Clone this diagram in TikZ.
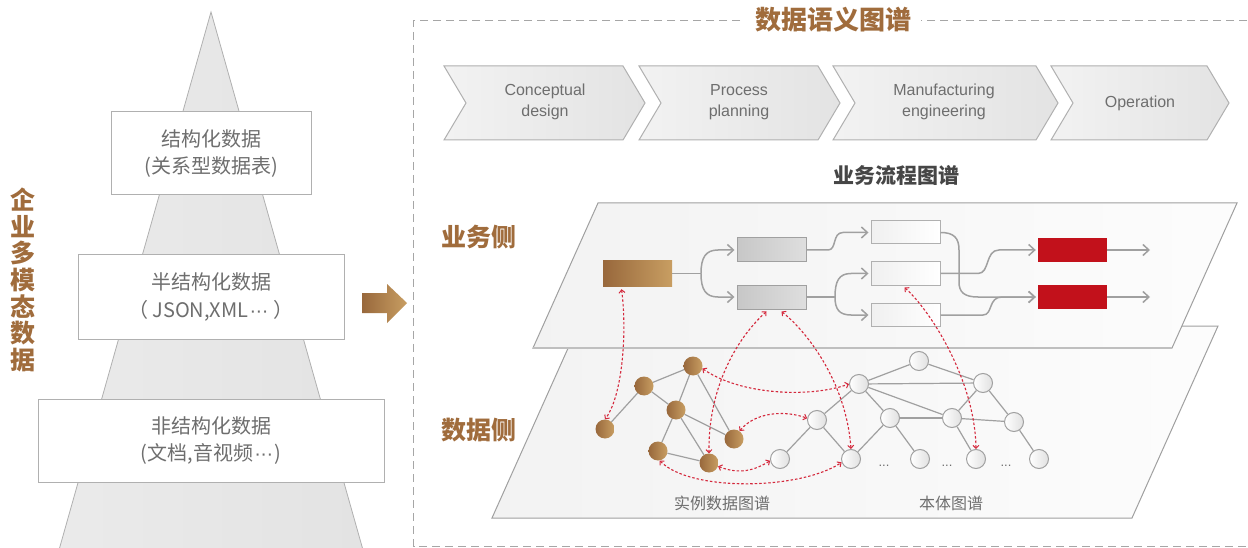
\documentclass[tikz,border=0pt]{standalone}
\usepackage{fontspec}
\setmainfont{Liberation Sans}
\newfontfamily\cjk{Noto Sans CJK SC}
\usetikzlibrary{arrows.meta}
\definecolor{ttl}{RGB}{160,108,60}
\definecolor{txt}{RGB}{110,110,110}
\definecolor{dtxt}{RGB}{70,70,70}
\definecolor{lgray}{RGB}{160,160,160}
\definecolor{bgray}{RGB}{176,176,176}
\definecolor{redb}{RGB}{194,17,27}
\definecolor{reddash}{RGB}{212,40,60}
\definecolor{brA}{RGB}{152,104,60}
\definecolor{brB}{RGB}{200,158,98}
\newcommand{\mydots}{{\rmfamily\kern1pt·\kern-0.5pt·\kern-0.5pt·\kern1pt}}
\tikzset{
  pyr/.style={draw=bgray, line width=0.8pt, left color=black!8, right color=black!11},
  lbox/.style={draw=bgray, fill=white, line width=1pt, minimum height=83pt, align=center, text=txt,
     font=\cjk\fontsize{20}{27.5}\selectfont, inner sep=0pt},
  chev/.style={draw=bgray, line width=1pt, left color=black!5, right color=black!11},
  chevtxt/.style={align=center, text=txt, font=\fontsize{16}{21}\selectfont},
  plane/.style={draw=lgray, line width=1pt, left color=black!5, right color=black!1},
  brbox/.style={minimum width=69pt, minimum height=25pt, inner sep=0pt, left color=brA, right color=brB},
  graybox/.style={draw=lgray, line width=1pt, minimum width=69pt, minimum height=24pt, inner sep=0pt, left color=black!22, right color=black!13},
  whitebox/.style={draw=bgray, line width=1pt, minimum width=69pt, minimum height=23pt, inner sep=0pt, left color=black!6, right color=white},
  redbox/.style={fill=redb, minimum width=69pt, minimum height=24pt, inner sep=0pt},
  flow/.style={draw=lgray, line width=1.5pt},
  flowa/.style={flow, -{Straight Barb[length=6pt,width=11pt,line width=1.5pt]}, shorten >=2pt},
  bn/.style={circle, minimum size=19pt, inner sep=0pt, left color=brA, right color=brB},
  wn/.style={circle, minimum size=19pt, inner sep=0pt, draw=lgray, line width=1pt, left color=white, right color=black!12},
  ge/.style={draw=lgray, line width=1.2pt},
  rdash/.style={draw=reddash, line width=1.1pt, dash pattern=on 2.5pt off 2pt,
     arrows={Straight Barb[length=3pt,width=6pt,line width=1pt]-Straight Barb[length=3pt,width=6pt,line width=1pt]}},
  sidettl/.style={text=ttl, font=\cjk\bfseries\fontsize{25}{26.7}\selectfont, align=center},
  glabel/.style={text=txt, font=\cjk\fontsize{16}{18}\selectfont}
}
\begin{document}
\begin{tikzpicture}[x=1pt,y=-1pt]
\useasboundingbox (0,0) rectangle (1248,548);
\fill[white] (0,0) rectangle (1248,548);

% ---------- left pyramid ----------
\path[pyr] (211,12) -- (363,550) -- (59,550) -- cycle;
\node[lbox, minimum width=200pt] (s1) at (211,153.5) {结构化数据\\(关系型数据表)};
\node[lbox, minimum width=266pt, minimum height=84pt] (s2) at (211,297) {半结构化数据\\（ JSON,XML\mydots\ ）};
\node[lbox, minimum width=346pt] (s3) at (211,440.5) {非结构化数据\\(文档,音视频\mydots)};
\node[sidettl] (vt) at (23,280) {企\\业\\多\\模\\态\\数\\据};

% brown block arrow
\path[left color=brA, right color=brB] (362,293) -- (387,293) -- (387,284) -- (407,303) -- (387,323) -- (387,313) -- (362,313) -- cycle;

% ---------- dashed frame ----------
\draw[draw=black!35, line width=1pt, dash pattern=on 8pt off 5pt] (1260,20.5) -- (413.5,20.5) -- (413.5,546.5) -- (1260,546.5);
\node[fill=white, inner xsep=10pt, inner ysep=2pt, text=ttl, font=\cjk\bfseries\fontsize{26}{28}\selectfont] (title) at (833,20) {数据语义图谱};

% ---------- chevrons ----------
\foreach \l/\r in {444/623, 639/818, 833/1036, 1051/1207} {
  \path[chev] (\l,66) -- (\r,66) -- (\r+22,103) -- (\r,140) -- (\l,140) -- (\l+22,103) -- cycle;
}
\node[chevtxt] (c1) at (545,102) {Conceptual\\design};
\node[chevtxt] (c2) at (739,102) {Process\\planning};
\node[chevtxt] (c3) at (944,102) {Manufacturing\\engineering};
\node[chevtxt] (c4) at (1140,103) {Operation};

\node[text=dtxt, font=\cjk\bfseries\fontsize{21}{23}\selectfont] (bpt) at (896,175) {业务流程图谱};

% ---------- planes ----------
\path[plane] (578,326) -- (1218,326) -- (1132,518) -- (492,518) -- cycle;
\path[plane] (598,203) -- (1237,203) -- (1172,348) -- (533,348) -- cycle;
\draw[draw=black!25, line width=1.5pt] (533,348) -- (1172,348);

\node[sidettl] (ywc) at (479,237) {业务侧};
\node[sidettl] (sjc) at (479,430) {数据侧};

% ---------- business process ----------
\node[brbox] (br) at (637.5,273.5) {};
\node[graybox] (A) at (771.5,250) {};
\node[graybox] (B) at (771.5,297) {};
\node[whitebox] (C) at (905.5,232.5) {};
\node[whitebox] (D) at (905.5,273.5) {};
\node[whitebox] (E) at (905.5,315) {};
\node[redbox] (R1) at (1072.5,250) {};
\node[redbox] (R2) at (1072.5,297) {};
\coordinate (j1) at (701,273.5);
\coordinate (j2) at (835,297);
\coordinate (x1) at (1152,250);
\coordinate (x2) at (1152,297);

\draw[flow] (br.east) -- (j1);
\draw[flowa] (j1) .. controls (701,257) and (706,250) .. (718,250) -- (A.west);
\draw[flowa] (j1) .. controls (701,290) and (706,297) .. (718,297) -- (B.west);
\draw[flowa] (A.east) -- (828,250) .. controls (837,250) and (832,232.5) .. (843,232.5) -- (C.west);
\draw[flow] (B.east) -- (j2);
\draw[flowa] (j2) .. controls (835,281) and (839,273.5) .. (851,273.5) -- (D.west);
\draw[flowa] (j2) .. controls (835,309) and (839,315) .. (851,315) -- (E.west);
\draw[flowa] (C.east) .. controls (954,232.5) and (959,238) .. (959,250) -- (959,282) .. controls (959,292) and (964,297) .. (978,297) -- (R2.west);
\draw[flowa] (D.east) -- (978,273.5) .. controls (990,273.5) and (985,250) .. (999,250) -- (R1.west);
\draw[flowa] (E.east) -- (983,315) .. controls (993,315) and (988,297) .. (1002,297) -- (R2.west);
\draw[flowa] (R1.east) -- (x1);
\draw[flowa] (R2.east) -- (x2);

% ---------- instance graph ----------
\node[bn] (n1) at (605,429) {};
\node[bn] (n2) at (644,386) {};
\node[bn] (n3) at (693,366) {};
\node[bn] (n4) at (676,410) {};
\node[bn] (n5) at (658,451) {};
\node[bn] (n6) at (709,463) {};
\node[bn] (n7) at (734,439) {};
\foreach \a/\b in {n1/n2, n2/n3, n2/n4, n3/n4, n3/n7, n4/n7, n4/n5, n4/n6, n5/n6}
  \draw[ge] (\a) -- (\b);

% ---------- ontology graph ----------
\node[wn] (o1) at (919,361) {};
\node[wn] (o2) at (859,384) {};
\node[wn] (o3) at (983,383) {};
\node[wn] (o4) at (817,420) {};
\node[wn] (o5) at (890,418) {};
\node[wn] (o6) at (952,418) {};
\node[wn] (o7) at (1014,422) {};
\node[wn] (o8) at (780,459) {};
\node[wn] (o9) at (851,459) {};
\node[wn] (o10) at (920,459) {};
\node[wn] (o11) at (976,459) {};
\node[wn] (o12) at (1039,459) {};
\foreach \a/\b in {o1/o2, o1/o3, o2/o3, o2/o4, o2/o5, o2/o6, o3/o6, o3/o7, o5/o6, o6/o7, o4/o8, o4/o9, o5/o9, o5/o10, o6/o11, o7/o12}
  \draw[ge] (\a) -- (\b);
\foreach \x/\n in {884/d1, 947/d2, 1006/d3}
  \node[anchor=base, text=txt, font=\fontsize{13}{13}\selectfont] (\n) at (\x,466) {...};

\node[glabel] (l1) at (722,503) {实例数据图谱};
\node[glabel] (l2) at (951,503) {本体图谱};

% ---------- red dashed links ----------
\draw[rdash] ([xshift=-16pt,yshift=-3pt]br.south) .. controls (627,330) and (623,395) .. (n1.north);
\draw[rdash] ([xshift=-5pt,yshift=-2pt]B.south) .. controls (735,340) and (708,390) .. (n6.north);
\draw[rdash] ([xshift=10pt,yshift=-2pt]B.south) .. controls (805,330) and (846,380) .. (o9.north);
\draw[rdash] ([xshift=-1pt,yshift=-2pt]D.south) .. controls (930,310) and (975,380) .. (o11.north);
\draw[rdash] (n3.-15) .. controls (740,395) and (810,398) .. (o2.west);
\draw[rdash] (n7.55) .. controls (755,412) and (785,410) .. (o4.170);
\draw[rdash] (n6.-20) .. controls (740,475) and (755,470) .. (o8.190);
\draw[rdash] (n5.-80) .. controls (690,492) and (800,490) .. (o9.200);
\end{tikzpicture}
\end{document}
